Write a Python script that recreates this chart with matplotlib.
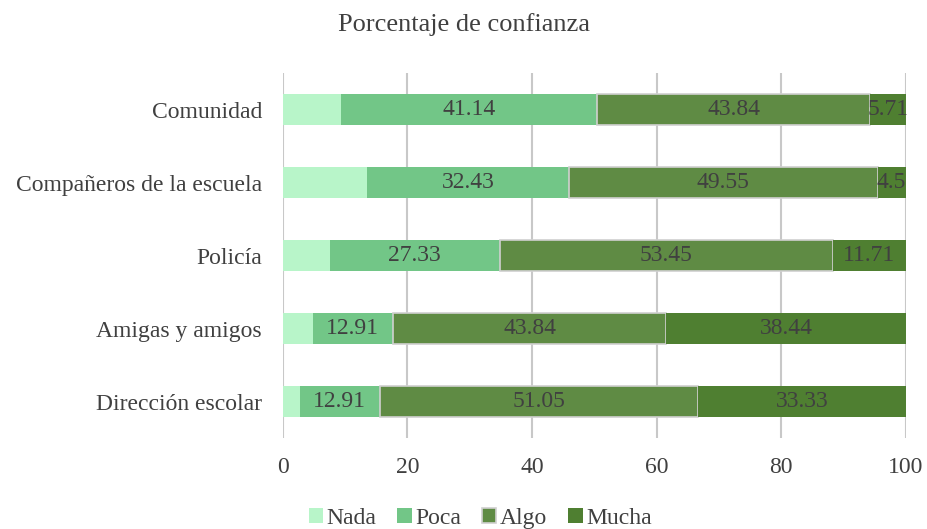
import matplotlib.pyplot as plt
import numpy as np

plt.rcParams['font.family'] = ['Liberation Serif', 'DejaVu Serif']

categories = ["Dirección escolar", "Amigas y amigos", "Policía",
              "Compañeros de la escuela", "Comunidad"]
nada = [2.71, 4.81, 7.51, 13.52, 9.31]
poca = [12.91, 12.91, 27.33, 32.43, 41.14]
algo = [51.05, 43.84, 53.45, 49.55, 43.84]
mucha = [33.33, 38.44, 11.71, 4.5, 5.71]

series = [("Nada", nada, "#b8f5c9", "none", False),
          ("Poca", poca, "#72c687", "none", True),
          ("Algo", algo, "#5f8b44", "#d0d0d0", True),
          ("Mucha", mucha, "#4f7f31", "none", True)]

fig = plt.figure(figsize=(9.27, 5.29), dpi=100)
ax = fig.add_axes([0.305, 0.172, 0.672, 0.690])

y = np.arange(len(categories))
left = np.zeros(len(categories))
for name, vals, color, edge, show in series:
    bars = ax.barh(y, vals, left=left, height=0.42, color=color,
                   edgecolor=edge, linewidth=1.2 if edge != "none" else 0,
                   label=name, zorder=3)
    if show:
        ax.bar_label(bars, labels=[f"{v:g}" for v in vals], label_type='center',
                     fontsize=17, color='#404040')
    left += np.array(vals)

ax.set_xlim(0, 100)
ax.set_ylim(-0.5, 4.5)
ax.set_yticks(y)
ax.set_yticklabels(categories, fontsize=17, color='#404040')
ax.set_xticks(range(0, 101, 20))
ax.tick_params(axis='x', labelsize=17, labelcolor='#404040', length=0, pad=14)
ax.tick_params(axis='y', length=0, pad=15)
ax.grid(axis='x', color='#c8c8c8', linewidth=1.5, zorder=0)
for s in ax.spines.values():
    s.set_visible(False)

fig.suptitle("Porcentaje de confianza", fontsize=19, color='#404040', y=0.975)
fig.legend(loc='lower center', bbox_to_anchor=(0.518, -0.04), ncol=4,
           frameon=False, fontsize=17, handlelength=0.6, handleheight=0.6,
           handletextpad=0.15, columnspacing=0.9, labelcolor='#404040')

fig.savefig("out.png", dpi=100)
